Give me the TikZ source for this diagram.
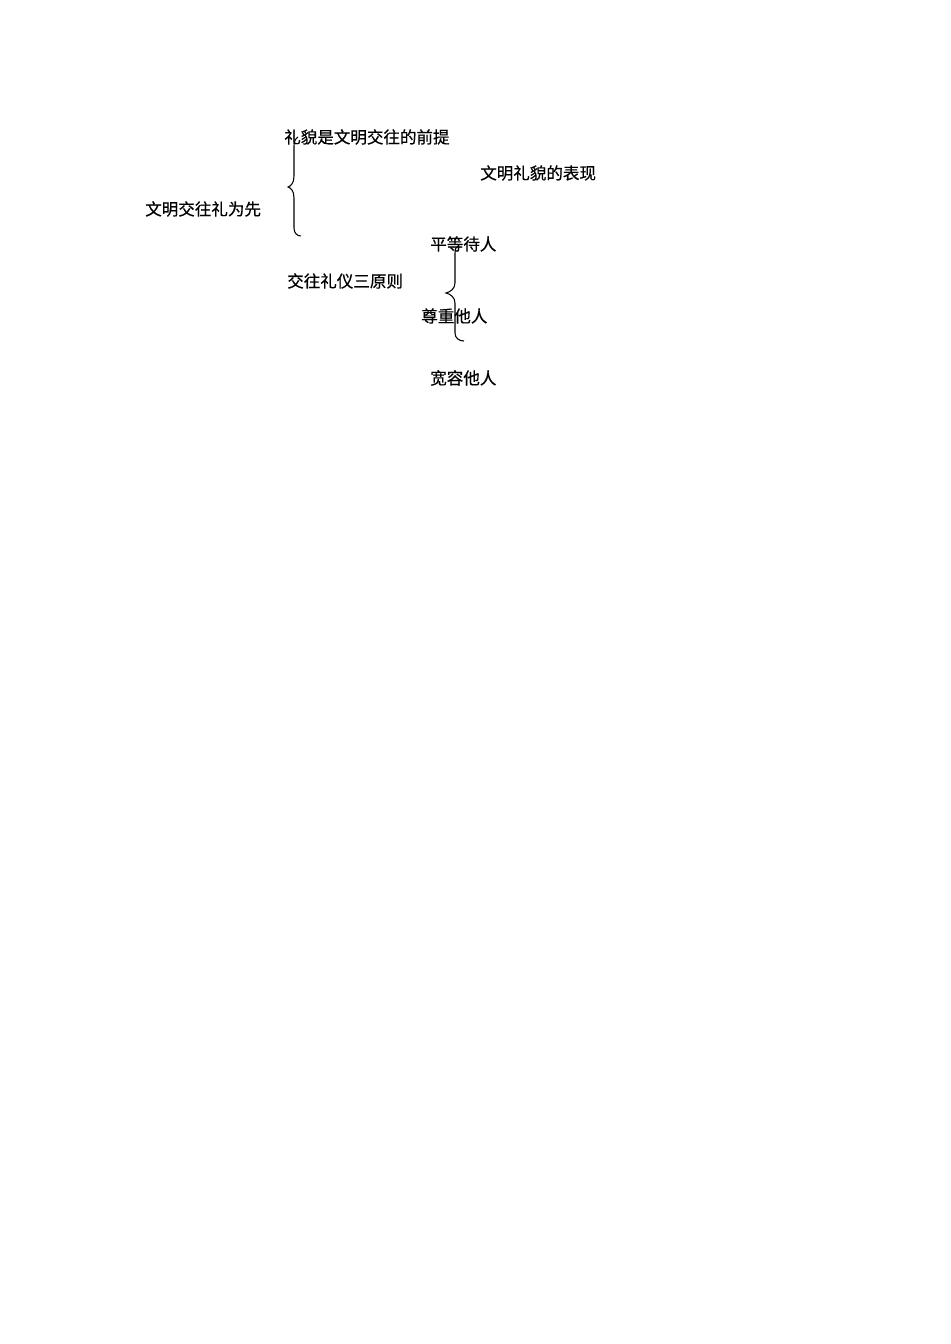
\documentclass[tikz,border=0pt]{standalone}
\usepackage{fontspec}
\newfontfamily\cjk[FakeBold=0.5]{Noto Sans CJK SC}
\begin{document}
\begin{tikzpicture}[x=0.75pt,y=-0.75pt,
  lbl/.style={anchor=west,inner sep=0pt,font=\cjk\fontsize{12.4pt}{14pt}\selectfont},
  brace/.style={line width=0.8pt,black}]
\useasboundingbox[fill=white] (0,0) rectangle (950,1344);
\node[lbl] (p1) at (284,137) {礼貌是文明交往的前提};
\node[lbl] (p2) at (480,173) {文明礼貌的表现};
\node[lbl] (root) at (145,209) {文明交往礼为先};
\node[lbl] (q1) at (430,244) {平等待人};
\node[lbl] (p3) at (287,281) {交往礼仪三原则};
\node[lbl] (q2) at (421,316) {尊重他人};
\node[lbl] (q3) at (430,378) {宽容他人};
\draw[brace] (298,137) .. controls (295,139) and (294,142) .. (294,146) -- (294,176)
  .. controls (294,183) and (291,186) .. (288,187)
  .. controls (291,188) and (294,191) .. (294,198) -- (294,228)
  .. controls (294,233) and (297,236) .. (301,236);
\draw[brace] (458,246) .. controls (456,247) and (455,249) .. (455,253) -- (455,283)
  .. controls (455,289) and (450,292) .. (446,293)
  .. controls (450,294) and (455,297) .. (455,303) -- (455,333)
  .. controls (455,338) and (459,341) .. (464,341);
\end{tikzpicture}
\end{document}
